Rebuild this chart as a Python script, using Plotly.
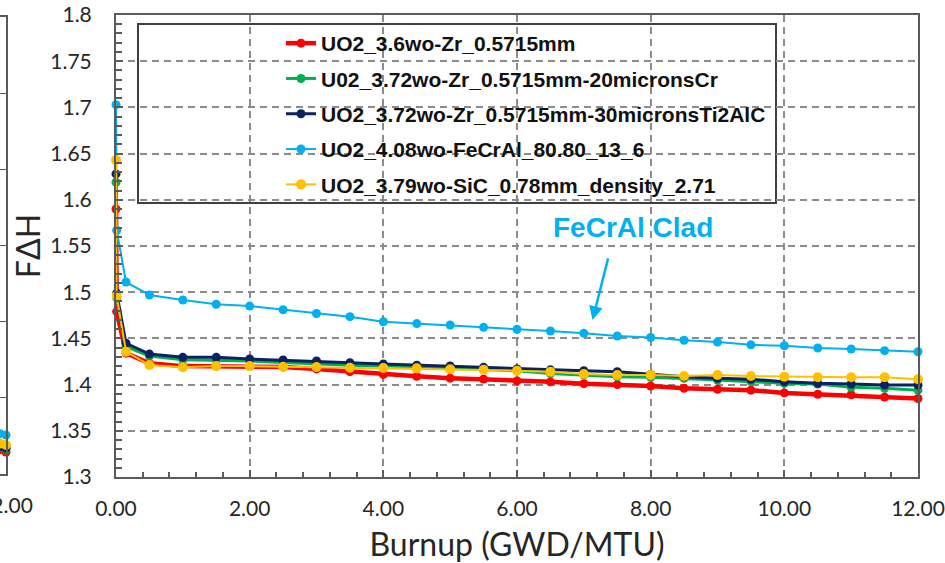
import plotly.graph_objects as go

# ---------------- data ----------------
burnup = [0, 0.01, 0.15, 0.5, 1.0, 1.5, 2.0, 2.5, 3.0, 3.5, 4.0, 4.5, 5.0, 5.5, 6.0,
          6.5, 7.0, 7.5, 8.0, 8.5, 9.0, 9.5, 10.0, 10.5, 11.0, 11.5, 12.0]

names = [
    "UO2_3.6wo-Zr_0.5715mm",
    "U02_3.72wo-Zr_0.5715mm-20micronsCr",
    "UO2_3.72wo-Zr_0.5715mm-30micronsTi2AlC",
    "UO2_4.08wo-FeCrAl_80.80_13_6",
    "UO2_3.79wo-SiC_0.78mm_density_2.71",
]

red_zr = [1.590, 1.479, 1.434, 1.423, 1.420, 1.420, 1.420, 1.419, 1.417, 1.414, 1.411,
          1.409, 1.407, 1.406, 1.404, 1.403, 1.401, 1.400, 1.3985, 1.396, 1.395, 1.394,
          1.391, 1.3895, 1.389, 1.3865, 1.385]
green_cr = [1.619, 1.494, 1.441, 1.431, 1.427, 1.4266, 1.4255, 1.424, 1.4223, 1.421, 1.420,
            1.4195, 1.4176, 1.4165, 1.415, 1.412, 1.4104, 1.4086, 1.408, 1.4068, 1.405,
            1.4032, 1.4014, 1.4007, 1.397, 1.396, 1.394]
navy_ti = [1.628, 1.499, 1.4447, 1.433, 1.4295, 1.4295, 1.4277, 1.4266, 1.4255, 1.4237,
           1.4223, 1.421, 1.4201, 1.4187, 1.417, 1.416, 1.415, 1.414, 1.411, 1.4086,
           1.4068, 1.4057, 1.4032, 1.4014, 1.4007, 1.3996, 1.3996]
blue_fecral = [1.703, 1.567, 1.511, 1.497, 1.4916, 1.487, 1.485, 1.481, 1.477, 1.4735,
               1.468, 1.466, 1.4645, 1.462, 1.4598, 1.458, 1.4555, 1.4526, 1.451, 1.448,
               1.446, 1.443, 1.442, 1.4396, 1.4385, 1.4367, 1.4356]
orange_sic = [1.643, 1.496, 1.4356, 1.4212, 1.4187, 1.420, 1.420, 1.4194, 1.419, 1.4183,
              1.418, 1.4176, 1.4165, 1.416, 1.415, 1.414, 1.4115, 1.4104, 1.4104, 1.4093,
              1.4104, 1.4093, 1.4086, 1.408, 1.408, 1.408, 1.4057]

series = [red_zr, green_cr, navy_ti, blue_fecral, orange_sic]
colors = ["#FF0000", "#00B050", "#0B2262", "#00B0F0", "#FFC000"]
widths = [4.5, 3, 3, 2, 2]
msizes = [9, 9, 9, 9, 10]

# tail of neighbouring (cut-off) chart at left edge
left_x = [11.5, 12.0]
left_vals = [
    [1.232, 1.2289],   # red
    [1.235, 1.2328],   # green
    [1.236, 1.2341],   # navy
    [1.253, 1.2512],   # blue
    [1.240, 1.2381],   # orange
]

x_ticks = [0, 2, 4, 6, 8, 10, 12]
y_ticks = [1.3, 1.35, 1.4, 1.45, 1.5, 1.55, 1.6, 1.65, 1.7, 1.75, 1.8]

# ---------------- figure ----------------
W, H = 945, 563
ML, MR, MT, MB = 0, 27, 15, 86
PW, PH = W - ML - MR, H - MT - MB

def px_x(p):
    return (p - ML) / PW

def px_y(p):
    return 1 - (p - MT) / PH

tick_font = dict(family="Lato, Carlito, sans-serif", size=21, color="#262626")
title_font = dict(family="Lato, Carlito, sans-serif", size=32, color="#262626")
axis_col = "#5a5a5a"
grid_col = "#8c8c8c"

fig = go.Figure()

for name, ys, c, w, ms in zip(names, series, colors, widths, msizes):
    fig.add_trace(go.Scatter(
        x=burnup, y=ys, name=name, mode="lines+markers",
        line=dict(color=c, width=w),
        marker=dict(color=c, size=ms, symbol="circle"),
        legendgroup=name, cliponaxis=False,
        xaxis="x", yaxis="y",
    ))

for ys, c, w, ms in zip(left_vals, colors, widths, msizes):
    fig.add_trace(go.Scatter(
        x=left_x, y=ys, mode="lines+markers",
        line=dict(color=c, width=w),
        marker=dict(color=c, size=ms),
        showlegend=False, cliponaxis=False,
        xaxis="x2", yaxis="y2",
    ))

fig.update_layout(
    template="none",
    width=W, height=H,
    margin=dict(l=ML, r=MR, t=MT, b=MB, autoexpand=False),
    paper_bgcolor="white", plot_bgcolor="white",
    showlegend=True,
    legend=dict(
        x=px_x(281), y=px_y(23), xanchor="left", yanchor="top",
        bgcolor="rgba(0,0,0,0)", borderwidth=0,
        font=dict(family="Liberation Sans, Arial, sans-serif", size=21,
                  color="#111111", weight="bold"),
        tracegroupgap=5, itemwidth=30, traceorder="grouped",
    ),
    xaxis=dict(
        domain=[px_x(116), 1], range=[0, 12], automargin=False,
        tickvals=x_ticks, tickformat=".2f",
        ticks="inside", ticklen=7, tickwidth=1.5, tickcolor=axis_col,
        minor=dict(dtick=0.4, ticks="inside", ticklen=5, tickcolor=axis_col, showgrid=False),
        showgrid=True, gridcolor=grid_col, gridwidth=1.8, griddash="7px,5px",
        showline=True, linecolor=axis_col, linewidth=2, mirror=True,
        tickfont=tick_font, ticklabelstandoff=12, ticklabeloverflow="allow",
        title=dict(text="Burnup (GWD/MTU)", font=title_font, standoff=24),
        zeroline=False,
    ),
    yaxis=dict(
        domain=[0, 1], range=[1.3, 1.8], automargin=False,
        tickvals=y_ticks, ticktext=[("%g" % v) for v in y_ticks],
        ticks="inside", ticklen=7, tickwidth=1.5, tickcolor=axis_col,
        minor=dict(dtick=0.01, ticks="inside", ticklen=6, tickcolor=axis_col, showgrid=False),
        showgrid=True, gridcolor=grid_col, gridwidth=1.8, griddash="7px,5px",
        showline=True, linecolor=axis_col, linewidth=2, mirror=True,
        tickfont=tick_font, ticklabelstandoff=18,
        title=dict(text="FΔH", font=title_font, standoff=0),
        zeroline=False,
    ),
    xaxis2=dict(
        domain=[0, px_x(6)], range=[11.5, 12], anchor="y2", automargin=False,
        tickvals=[12], tickformat=".2f", ticks="",
        showgrid=False, showline=True, linecolor=axis_col, linewidth=2, mirror=True,
        tickfont=tick_font, ticklabelstandoff=12, ticklabeloverflow="allow",
        zeroline=False,
    ),
    yaxis2=dict(
        domain=[px_y(474), px_y(17)], range=[1.2, 1.8], anchor="x2", side="right",
        automargin=False,
        dtick=0.1, ticks="inside", ticklen=6, tickcolor=axis_col,
        showticklabels=False, showgrid=False,
        showline=True, linecolor=axis_col, linewidth=2, zeroline=False,
    ),
    shapes=[dict(
        type="rect", xref="paper", yref="paper",
        x0=px_x(138), x1=px_x(776), y0=px_y(203), y1=px_y(24),
        line=dict(color="#404040", width=2), fillcolor="white", layer="below",
    )],
    annotations=[
        dict(text="<b>FeCrAl Clad</b>", x=7.73, y=1.5695, xref="x", yref="y",
             showarrow=False, font=dict(family="Liberation Sans, Arial, sans-serif",
                                        size=28, color="#00B0F0")),
        dict(text="", x=7.13, y=1.470, xref="x", yref="y", showarrow=True,
             ax=16, ay=-63, arrowhead=2, arrowsize=1.1, arrowwidth=2.5,
             arrowcolor="#00B0F0", standoff=0),
    ],
)

fig.write_html("out.html",
               config={"displayModeBar": False},
               post_script="document.body.style.margin='0px';document.body.style.overflow='hidden';")
